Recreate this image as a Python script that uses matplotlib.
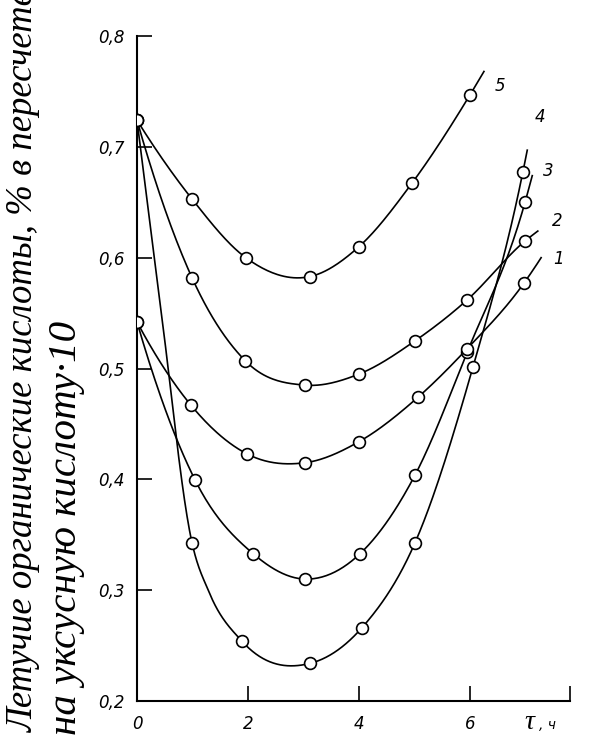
import numpy as np
import matplotlib
matplotlib.use("Agg")
import matplotlib.pyplot as plt

# --------- data ---------
# markers (t, h ; value)
x5 = [0, 0.99, 1.96, 3.12, 4.0, 4.95, 6.0]
y5 = [0.724, 0.653, 0.600, 0.583, 0.610, 0.667, 0.747]
x4 = [0, 0.99, 1.89, 3.12, 4.05, 5.01, 6.05, 6.95]
y4 = [0.724, 0.343, 0.254, 0.234, 0.266, 0.343, 0.501, 0.677]
x3 = [0, 1.05, 2.09, 3.03, 4.02, 5.01, 5.95, 6.99]
y3 = [0.542, 0.399, 0.333, 0.310, 0.333, 0.404, 0.515, 0.650]
x2 = [0, 0.99, 1.95, 3.03, 4.0, 5.01, 5.95, 6.99]
y2 = [0.724, 0.582, 0.507, 0.485, 0.495, 0.525, 0.562, 0.615]
x1 = [0, 0.97, 1.98, 3.03, 4.0, 5.06, 5.95, 6.97]
y1 = [0.542, 0.467, 0.423, 0.415, 0.434, 0.474, 0.518, 0.577]

# extra points on the drawn lines (line ends, and curve 4 near the start)
ext5 = ([], [], (6.25, 0.768))
ext4 = ([0.41, 1.30], [0.562, 0.298], (7.03, 0.697))
ext3 = ([], [], (7.12, 0.674))
ext2 = ([], [], (7.22, 0.624))
ext1 = ([], [], (7.28, 0.600))

curve_names = ["5", "4", "3", "2", "1"]
label_pos = [(6.45, 0.755), (7.17, 0.727), (7.31, 0.678), (7.48, 0.633), (7.50, 0.599)]

yticks = [0.2, 0.3, 0.4, 0.5, 0.6, 0.7, 0.8]
yticklabels = ["0,2", "0,3", "0,4", "0,5", "0,6", "0,7", "0,8"]
xticks = [0, 2, 4, 6]
xticklabels = ["0", "2", "4", "6"]


def smooth(xs, ys, n=40):
    # hermite curve with three-point (Bessel) tangents, like a french curve
    xs = np.asarray(xs, float)
    ys = np.asarray(ys, float)
    h = np.diff(xs)
    d = np.diff(ys) / h
    m = np.zeros(len(xs))
    m[1:-1] = (h[1:] * d[:-1] + h[:-1] * d[1:]) / (h[:-1] + h[1:])
    m[0] = ((2 * h[0] + h[1]) * d[0] - h[0] * d[1]) / (h[0] + h[1])
    m[-1] = ((2 * h[-1] + h[-2]) * d[-1] - h[-1] * d[-2]) / (h[-1] + h[-2])
    X, Y = [], []
    for i in range(len(h)):
        t = np.linspace(0, 1, n)
        h00 = 2 * t ** 3 - 3 * t ** 2 + 1
        h10 = t ** 3 - 2 * t ** 2 + t
        h01 = -2 * t ** 3 + 3 * t ** 2
        h11 = t ** 3 - t ** 2
        X.append(xs[i] + t * h[i])
        Y.append(h00 * ys[i] + h10 * h[i] * m[i] + h01 * ys[i + 1] + h11 * h[i] * m[i + 1])
    return np.concatenate(X), np.concatenate(Y)


fig = plt.figure(figsize=(5.94, 7.42), dpi=100)
ax = fig.add_axes([137 / 594, 41 / 742, 433 / 594, 665 / 742])

series = [(x5, y5, ext5), (x4, y4, ext4), (x3, y3, ext3), (x2, y2, ext2), (x1, y1, ext1)]
for (xs, ys, ext), name, (lx, ly) in zip(series, curve_names, label_pos):
    px = list(xs) + list(ext[0]) + [ext[2][0]]
    py = list(ys) + list(ext[1]) + [ext[2][1]]
    order = np.argsort(px)
    px = np.array(px)[order]
    py = np.array(py)[order]
    xx, yy = smooth(px, py)
    ax.plot(xx, yy, color="black", lw=1.2, zorder=2)
    ax.plot(xs, ys, "o", ms=8.5, mfc="white", mec="black", mew=1.2, zorder=3)
    ax.text(lx, ly, name, fontsize=12, style="italic", ha="left", va="center")

ax.set_xlim(0, 7.8)
ax.set_ylim(0.2, 0.8)
ax.spines["top"].set_visible(False)
ax.spines["right"].set_visible(False)
for s in ["left", "bottom"]:
    ax.spines[s].set_linewidth(1.5)

ax.set_xticks(xticks + [7.8])
ax.set_xticklabels(xticklabels + [""], fontsize=12, style="italic")
ax.set_yticks(yticks)
ax.set_yticklabels(yticklabels, fontsize=12, style="italic")
ax.tick_params(direction="in", length=11, width=1.2, pad=9)
ax.tick_params(axis="x", pad=10)

# axis title for time
ax.text(6.97, 0.181, "τ", fontsize=20, family="Liberation Serif", style="italic",
        ha="left", va="center", clip_on=False)
ax.text(7.24, 0.178, ", ч", fontsize=10, style="italic", ha="left", va="center",
        clip_on=False)

fig.text(33 / 594, 10 / 742, "Летучие органические кислоты, % в пересчете",
         rotation=90, rotation_mode="anchor", ha="left", va="baseline",
         fontsize=26.5, family="Liberation Serif", style="italic")
fig.text(76 / 594, 7 / 742, "на уксусную кислоту·10",
         rotation=90, rotation_mode="anchor", ha="left", va="baseline",
         fontsize=29.5, family="Liberation Serif", style="italic")

fig.savefig("out.png", dpi=100)
